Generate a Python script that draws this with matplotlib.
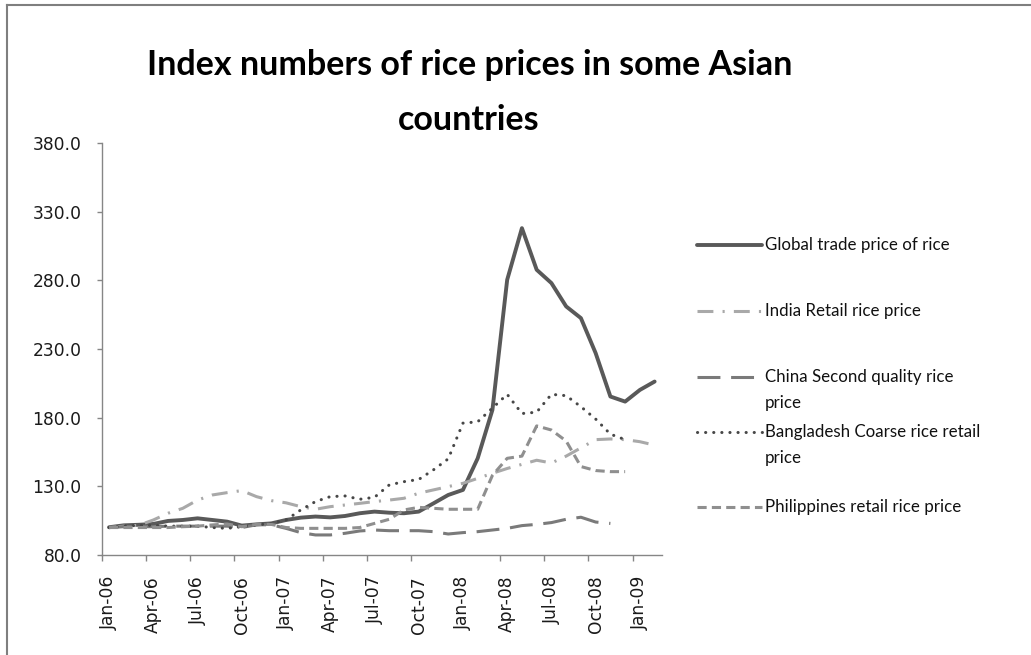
"""Index numbers of rice prices in some Asian countries (Jan-06 .. Feb-09)."""

import matplotlib
matplotlib.use("Agg")
import matplotlib.pyplot as plt
from matplotlib.lines import Line2D
from matplotlib.ticker import FixedLocator, FuncFormatter

# --- data (monthly, Jan-06 onwards) ---
months = ["Jan-06", "Feb-06", "Mar-06", "Apr-06", "May-06", "Jun-06", "Jul-06", "Aug-06",
          "Sep-06", "Oct-06", "Nov-06", "Dec-06", "Jan-07", "Feb-07", "Mar-07", "Apr-07",
          "May-07", "Jun-07", "Jul-07", "Aug-07", "Sep-07", "Oct-07", "Nov-07", "Dec-07",
          "Jan-08", "Feb-08", "Mar-08", "Apr-08", "May-08", "Jun-08", "Jul-08", "Aug-08",
          "Sep-08", "Oct-08", "Nov-08", "Dec-08", "Jan-09", "Feb-09"]

global_trade = [100.2, 101.6, 102.0, 102.6, 104.8, 105.5, 106.7, 105.5, 104.3, 101.4,
                102.3, 103.0, 105.5, 107.2, 108.0, 107.4, 108.4, 110.4, 111.6, 110.8,
                110.4, 111.6, 117.6, 123.7, 127.4, 150.4, 185.7, 280.4, 318.0, 287.7,
                278.0, 261.0, 252.5, 227.0, 195.4, 191.7, 200.2, 206.3]
india_retail = [100.0, 101.0, 101.6, 105.5, 110.4, 114.0, 120.0, 123.7, 125.4, 126.9,
                122.5, 119.6, 118.0, 115.2, 113.3, 115.2, 116.4, 117.6, 118.9, 120.0,
                121.3, 125.0, 127.4, 129.8, 132.2, 135.8, 139.5, 143.0, 146.0, 149.0,
                147.0, 152.0, 158.0, 164.0, 164.5, 164.0, 162.5, 160.0]
china_second = [100.0, 100.6, 100.6, 100.6, 101.0, 101.0, 101.0, 101.0, 101.0, 100.0,
                102.0, 102.0, 99.4, 96.3, 94.6, 94.6, 95.8, 97.5, 98.2, 97.7,
                97.7, 97.7, 97.0, 95.3, 96.3, 97.0, 98.2, 99.4, 101.4, 102.3,
                103.6, 106.0, 107.5, 104.0, 103.0]
bangladesh_coarse = [100.0, 101.0, 101.6, 101.6, 101.0, 101.0, 101.0, 100.0, 99.4, 100.6,
                     101.9, 103.0, 105.5, 112.8, 118.9, 122.5, 123.0, 120.6, 122.0, 131.0,
                     133.4, 135.0, 142.0, 150.0, 176.0, 177.0, 187.0, 197.0, 183.0, 184.0,
                     197.0, 196.0, 188.0, 179.0, 168.0, 164.0]
philippines_retail = [100.0, 100.0, 100.0, 100.0, 100.0, 100.6, 101.0, 101.9, 102.6, 100.6,
                      102.3, 102.3, 100.0, 99.4, 99.4, 99.4, 99.4, 100.0, 103.0, 106.0,
                      112.8, 114.7, 114.0, 113.3, 113.3, 113.3, 138.0, 150.4, 152.0, 174.0,
                      171.0, 163.0, 144.4, 141.5, 140.7, 140.7]

series_names = ["Global trade price of rice", "India Retail rice price",
                "China Second quality rice\nprice", "Bangladesh Coarse rice retail\nprice",
                "Philippines retail rice price"]
series_values = [global_trade, india_retail, china_second, bangladesh_coarse, philippines_retail]

y_ticks = [80, 130, 180, 230, 280, 330, 380]

# --- styles ---
styles = [
    dict(color="#595959", lw=2.8, ls="-", solid_capstyle="round"),
    dict(color="#a9a9a9", lw=2.2, ls=(0, (5.2, 3.0, 0.7, 3.0))),
    dict(color="#7a7a7a", lw=2.2, ls=(0, (7.5, 3.5))),
    dict(color="#474747", lw=2.2, ls=(0, (0.05, 2.6)), dash_capstyle="round"),
    dict(color="#8f8f8f", lw=2.2, ls=(0, (3.0, 1.7))),
]

W, H = 1031, 655
fig = plt.figure(figsize=(W / 100, H / 100), dpi=100)
fig.patch.set_facecolor("white")


def fx(px):
    return px / W


def fy(py):
    return 1 - py / H


# plot area in pixels: x 101.7..662, y 143..555
ax = fig.add_axes([fx(101.7), fy(555), fx(662) - fx(101.7), fy(143) - fy(555)])

x = list(range(len(months)))
for vals, st in zip(series_values, styles):
    ax.plot(x[:len(vals)], vals, **st)

ax.set_xlim(-0.5, len(months) - 0.5)
ax.set_ylim(80, 380)

for side in ("top", "right"):
    ax.spines[side].set_visible(False)
for side in ("left", "bottom"):
    ax.spines[side].set_color("#868686")
    ax.spines[side].set_linewidth(1.0)

# y axis
ax.set_yticks(y_ticks)
ax.yaxis.set_major_formatter(FuncFormatter(lambda v, p: f"{v:.1f}"))
ax.tick_params(axis="y", length=3.5, width=1.0, color="#868686", pad=11,
               labelsize=12.3, labelcolor="#1a1a1a")

# x axis: tick marks on category boundaries (Jan-08 mark missing in the original),
# labels centred on the categories every 3 months
label_pos = list(range(0, len(months), 3))
tick_pos = [p - 0.5 for p in label_pos if months[p] != "Jan-08"]
ax.xaxis.set_major_locator(FixedLocator(tick_pos))
ax.xaxis.set_major_formatter(FuncFormatter(lambda v, p: ""))
ax.xaxis.set_minor_locator(FixedLocator(label_pos))
ax.xaxis.set_minor_formatter(FuncFormatter(lambda v, p: months[int(round(v))]))
ax.tick_params(axis="x", which="major", length=4.5, width=1.0, color="#868686")
ax.tick_params(axis="x", which="minor", length=0, pad=15, labelsize=12.3,
               labelcolor="#1a1a1a", labelrotation=90)

# title
fig.text(fx(470), fy(65), "Index numbers of rice prices in some Asian",
         family="Lato", weight="bold", fontsize=24.5, ha="center", va="center")
fig.text(fx(469), fy(120), "countries",
         family="Lato", weight="bold", fontsize=24.5, ha="center", va="center")

# legend, drawn by hand to keep Excel's layout
legend_rows = [245, 311, 377, 432, 507]
line_gap = 26
for name, st, yrow in zip(series_names, styles, legend_rows):
    fig.add_artist(Line2D([fx(697), fx(762)], [fy(yrow), fy(yrow)],
                          transform=fig.transFigure, **st))
    for k, part in enumerate(name.split("\n")):
        fig.text(fx(765), fy(yrow + k * line_gap), part, family="Lato",
                 fontsize=12.2, ha="left", va="center", color="#111111")

# outer chart frame (right and bottom edges fall outside the picture)
frame = dict(color="#7f7f7f", lw=1.5, transform=fig.transFigure)
fig.add_artist(Line2D([fx(7), 1], [fy(5), fy(5)], **frame))
fig.add_artist(Line2D([fx(7), fx(7)], [fy(5), 0], **frame))

fig.savefig("out.png", dpi=100)
plt.close(fig)
